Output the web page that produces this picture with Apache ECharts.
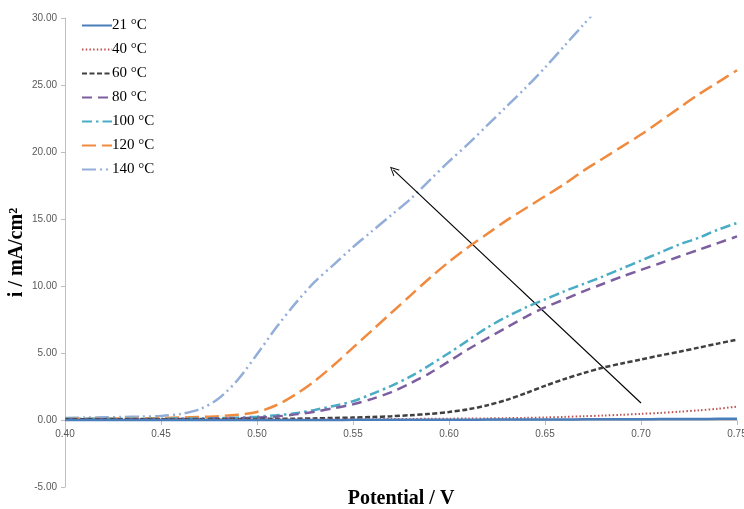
<!DOCTYPE html>
<html>
<head>
<meta charset="utf-8">
<script src="https://cdn.jsdelivr.net/npm/echarts@6/dist/echarts.min.js"></script>
<style>
html,body{margin:0;padding:0;background:#fff;}
#chart{width:744px;height:509px;}
</style>
</head>
<body>
<div id="chart"></div>
<script>
// Potential (V)
const potential = [0.40,0.41,0.42,0.43,0.44,0.45,0.46,0.47,0.48,0.49,0.50,0.51,0.52,0.53,0.54,0.55,0.56,0.57,0.58,0.59,0.60,0.61,0.62,0.63,0.64,0.65,0.66,0.67,0.68,0.69,0.70,0.71,0.72,0.73,0.74,0.75];
// current density (mA/cm2) per temperature
const i21  = [0.00,0.00,0.00,0.00,0.00,0.00,0.00,0.00,0.00,0.00,0.00,0.00,0.00,0.00,0.00,0.01,0.01,0.01,0.01,0.02,0.02,0.02,0.03,0.03,0.03,0.04,0.04,0.05,0.05,0.06,0.06,0.07,0.08,0.08,0.09,0.10];
const i40  = [0.02,0.02,0.02,0.02,0.02,0.03,0.03,0.03,0.03,0.03,0.04,0.04,0.04,0.04,0.05,0.05,0.06,0.07,0.08,0.09,0.10,0.11,0.12,0.14,0.16,0.19,0.23,0.28,0.33,0.39,0.46,0.53,0.62,0.72,0.84,1.00];
const i60  = [0.05,0.05,0.05,0.05,0.05,0.06,0.06,0.06,0.07,0.07,0.08,0.09,0.10,0.12,0.15,0.18,0.22,0.28,0.36,0.46,0.60,0.80,1.10,1.50,2.00,2.55,3.05,3.50,3.90,4.22,4.52,4.82,5.10,5.40,5.70,6.00];
const i80  = [0.05,0.05,0.05,0.05,0.05,0.06,0.07,0.08,0.10,0.13,0.18,0.26,0.42,0.62,0.88,1.18,1.58,2.08,2.75,3.50,4.38,5.28,6.10,6.90,7.70,8.40,9.00,9.60,10.15,10.70,11.20,11.70,12.20,12.70,13.20,13.70];
const i100 = [0.10,0.10,0.10,0.10,0.10,0.10,0.11,0.12,0.14,0.18,0.25,0.35,0.50,0.75,1.05,1.40,1.95,2.55,3.25,4.10,5.00,5.95,6.90,7.70,8.40,9.00,9.60,10.15,10.70,11.30,11.90,12.50,13.10,13.60,14.20,14.70];
const i120 = [0.10,0.10,0.10,0.12,0.12,0.15,0.18,0.22,0.28,0.40,0.60,1.10,1.90,2.90,4.10,5.40,6.70,8.00,9.30,10.60,11.80,12.90,13.90,14.90,15.80,16.70,17.60,18.60,19.50,20.40,21.30,22.30,23.30,24.30,25.20,26.10];
const i140 = [0.15,0.18,0.20,0.22,0.25,0.30,0.45,0.80,1.60,3.00,4.90,6.90,8.70,10.30,11.60,12.90,14.10,15.30,16.50,17.90,19.30,20.60,22.00,23.40,24.80,26.30,27.90,29.50,31.10,null,null,null,null,null,null,null];
// labels
const seriesNames = ['21 °C','40 °C','60 °C','80 °C','100 °C','120 °C','140 °C'];
const xTicks = {min:0.40, max:0.75, interval:0.05};
const yTicks = {min:-5, max:30, interval:5};
// arrow annotation (data coordinates): tail -> head
const arrowTail = [0.700, 1.27];
const arrowHead = [0.571, 18.66];

const seriesData = [i21,i40,i60,i80,i100,i120,i140];
const colors = ['#4a7ebb','#c0504d','#404040','#7d5fa0','#4bacc6','#f08a3e','#93aed8'];
const dashes = ['solid',[1.5,2.2],[5,2.5],[10,6],[10,4,2.5,4],[14,6],[14,4,2,4,2,4]];
const widths = [2.5,2,2.5,2.5,2.5,2.5,2.5];

const series = seriesData.map((arr, k) => ({
  name: seriesNames[k],
  type: 'line',
  data: potential.map((x, j) => [x, arr[j]]),
  showSymbol: false,
  symbol: 'none',
  smooth: 0.3,
  connectNulls: false,
  z: 10 - k,
  lineStyle: {color: colors[k], width: widths[k], type: dashes[k], cap: 'butt'},
  itemStyle: {color: colors[k]}
}));

series.push({
  type: 'line',
  data: [],
  silent: true,
  markLine: {
    silent: true,
    symbol: ['none', 'path://M5,0 L10,10 L8.8,10 L5,2.2 L1.2,10 L0,10 Z'],
    symbolSize: [9, 9],
    label: {show: false},
    lineStyle: {color: '#000', width: 1.1, type: 'solid'},
    data: [[{coord: arrowTail}, {coord: arrowHead}]]
  }
});

const chart = echarts.init(document.getElementById('chart'), null, {renderer: 'canvas'});
chart.setOption({
  animation: false,
  backgroundColor: '#fff',
  grid: {left: 65, right: 7, top: 18, bottom: 22, containLabel: false, outerBoundsMode: 'none'},
  legend: {
    orient: 'vertical',
    left: 76,
    top: 13,
    itemWidth: 30,
    itemHeight: 14,
    itemGap: 9,
    data: seriesNames,
    itemStyle: {opacity: 0},
    textStyle: {fontFamily: 'Liberation Serif', fontSize: 15, color: '#000', padding: [0,0,0,-5]}
  },
  xAxis: {
    type: 'value',
    min: xTicks.min, max: xTicks.max, interval: xTicks.interval,
    offset: -67,
    name: 'Potential / V',
    nameLocation: 'middle',
    nameGap: 69,
    nameMoveOverlap: false,
    nameTextStyle: {fontFamily: 'Liberation Serif', fontSize: 20, fontWeight: 'bold', color: '#000'},
    axisLine: {onZero: false, lineStyle: {color: '#bfbfbf', width: 1}},
    axisTick: {show: true, inside: false, length: 5, lineStyle: {color: '#bfbfbf'}},
    axisLabel: {fontFamily: 'Liberation Sans', fontSize: 10, color: '#595959', margin: 9,
      formatter: v => v.toFixed(2)},
    splitLine: {show: false}
  },
  yAxis: {
    type: 'value',
    min: yTicks.min, max: yTicks.max, interval: yTicks.interval,
    name: 'i / mA/cm²',
    nameLocation: 'middle',
    nameGap: 38,
    nameMoveOverlap: false,
    nameRotate: 90,
    nameTextStyle: {fontFamily: 'Liberation Serif', fontSize: 20, fontWeight: 'bold', color: '#000'},
    axisLine: {show: true, onZero: false, lineStyle: {color: '#bfbfbf', width: 1}},
    axisTick: {show: true, inside: false, length: 4, lineStyle: {color: '#bfbfbf'}},
    axisLabel: {fontFamily: 'Liberation Sans', fontSize: 10, color: '#595959', margin: 8,
      formatter: v => v.toFixed(2)},
    splitLine: {show: false}
  },
  series: series
});
</script>
</body>
</html>
